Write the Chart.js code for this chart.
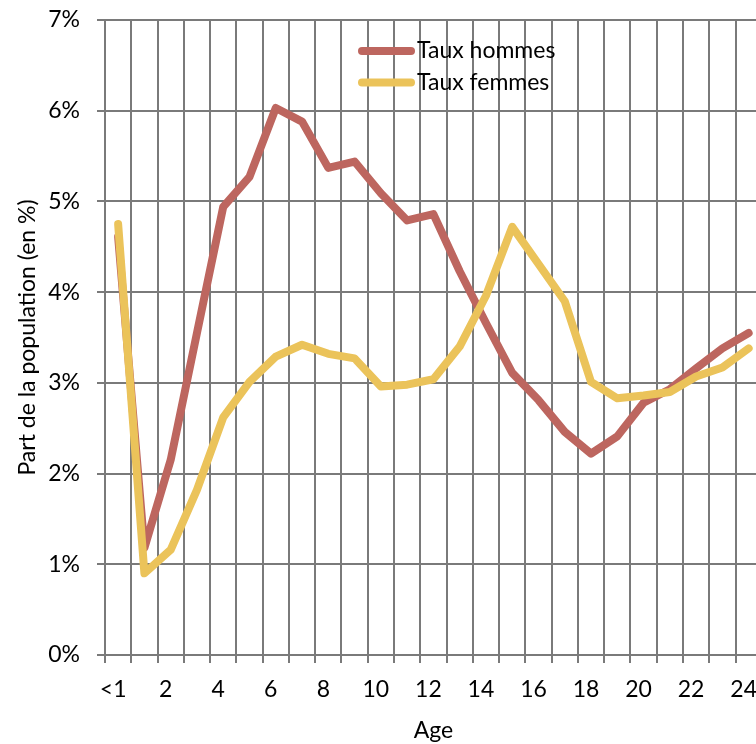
<!DOCTYPE html>
<html>
<head>
<meta charset="utf-8">
<script src="https://cdn.jsdelivr.net/npm/chart.js@4"></script>
<style>
  html, body { margin: 0; padding: 0; background: #fff; overflow: hidden; }
  #wrap { position: relative; width: 762px; height: 744px; }
</style>
</head>
<body>
<div id="wrap"><canvas id="chartAge"></canvas></div>
<script>
// DONNÉES
const ages = ['<1', '1', '2', '3', '4', '5', '6', '7', '8', '9', '10', '11', '12',
              '13', '14', '15', '16', '17', '18', '19', '20', '21', '22', '23', '24'];
const tauxHommes = [4.61, 1.18, 2.15, 3.55, 4.94, 5.27, 6.03, 5.88, 5.37, 5.44, 5.09, 4.79, 4.86,
                    4.23, 3.66, 3.11, 2.81, 2.46, 2.22, 2.41, 2.78, 2.93, 3.16, 3.38, 3.55];
const tauxFemmes = [4.75, 0.90, 1.16, 1.82, 2.62, 3.01, 3.29, 3.42, 3.32, 3.27, 2.96, 2.98, 3.04,
                    3.40, 3.96, 4.72, 4.31, 3.90, 3.01, 2.83, 2.86, 2.90, 3.07, 3.17, 3.38];
const yTicks = [0, 1, 2, 3, 4, 5, 6, 7];

const ROUGE = '#bd665f';
const JAUNE = '#ebc35a';
const GRILLE = '#7a7a7a';
const POLICE = 'Lato, "Open Sans", sans-serif';

// légende dessinée dans la zone du graphique
const legendeInterne = {
    id: 'legendeInterne',
    afterDraw(chart) {
        const { ctx, chartArea } = chart;
        const x0 = chartArea.left + 253;
        let y = chartArea.top + 31;
        ctx.save();
        chart.data.datasets.forEach(ds => {
            ctx.strokeStyle = ds.borderColor;
            ctx.lineWidth = 8;
            ctx.lineCap = 'round';
            ctx.beginPath();
            ctx.moveTo(x0 + 4, y);
            ctx.lineTo(x0 + 53, y);
            ctx.stroke();
            ctx.fillStyle = '#000';
            ctx.font = '23px ' + POLICE;
            ctx.textBaseline = 'middle';
            ctx.fillText(ds.label, x0 + 59, y);
            y += 31.5;
        });
        ctx.restore();
    }
};

new Chart(document.getElementById('chartAge'), {
    type: 'line',
    data: {
        labels: ages,
        datasets: [{
            label: 'Taux hommes',
            data: tauxHommes,
            borderColor: ROUGE,
            backgroundColor: ROUGE,
            borderWidth: 8,
            pointRadius: 0,
            tension: 0,
            borderCapStyle: 'round',
            borderJoinStyle: 'round',
            order: 2
        }, {
            label: 'Taux femmes',
            data: tauxFemmes,
            borderColor: JAUNE,
            backgroundColor: JAUNE,
            borderWidth: 8,
            pointRadius: 0,
            tension: 0,
            borderCapStyle: 'round',
            borderJoinStyle: 'round',
            order: 1
        }]
    },
    options: {
        responsive: true,
        maintainAspectRatio: false,
        animation: false,
        layout: { padding: { top: 20, left: 0, right: 0, bottom: 0 } },
        plugins: {
            legend: { display: false },
            tooltip: { enabled: false }
        },
        scales: {
            x: {
                offset: true,
                grid: { offset: true, color: GRILLE, lineWidth: 2, tickLength: 8 },
                border: { color: GRILLE, width: 2 },
                ticks: {
                    autoSkip: false,
                    maxRotation: 0,
                    padding: 0,
                    labelOffset: -5,
                    color: '#000',
                    font: { family: POLICE, size: 23, lineHeight: '54px' },
                    callback: (v, i) => i % 2 === 0 ? ages[i] : ''
                },
                title: {
                    display: true,
                    text: 'Age',
                    color: '#000',
                    font: { family: POLICE, size: 23 },
                    padding: { top: 0, bottom: 0 }
                },
                afterFit: scale => { scale.height = 89; }
            },
            y: {
                min: 0,
                max: 7,
                afterBuildTicks: scale => { scale.ticks = yTicks.map(v => ({ value: v })); },
                grid: { color: GRILLE, lineWidth: 2, tickLength: 8 },
                border: { color: GRILLE, width: 2 },
                ticks: {
                    padding: 17,
                    color: '#000',
                    font: { family: POLICE, size: 23, lineHeight: '6px' },
                    callback: v => v + '%'
                },
                title: {
                    display: true,
                    text: 'Part de la population (en %)',
                    color: '#000',
                    font: { family: POLICE, size: 23 },
                    padding: { top: 14, bottom: 0 }
                },
                afterFit: scale => { scale.width = 105; }
            }
        }
    },
    plugins: [legendeInterne]
});
</script>
</body>
</html>
